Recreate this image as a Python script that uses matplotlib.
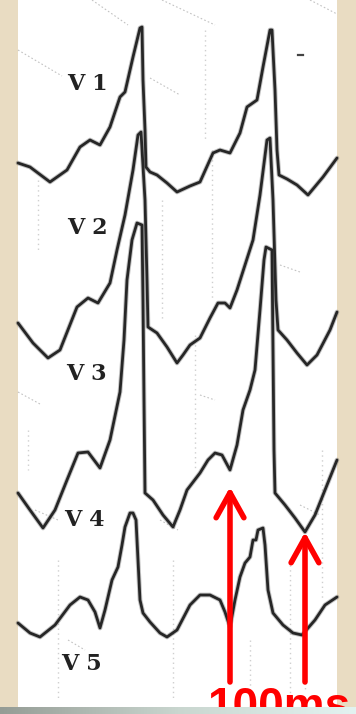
import numpy as np
import matplotlib
matplotlib.use("Agg")
import matplotlib.pyplot as plt

# Precordial leads: sample times (x) and deflections (y, screen units, down is positive)
v1_t = [18, 30, 50, 67, 80, 90, 100, 110, 120, 125, 133, 140, 142, 143, 145, 146, 150, 157, 167,
        177, 190, 200, 213, 220, 230, 240, 247, 257, 263, 270, 272, 275, 277, 279, 287, 297, 308,
        323, 337]
v1_y = [163, 167, 182, 170, 147, 140, 145, 127, 97, 92, 57, 28, 27, 80, 130, 167, 172, 175, 183,
        192, 186, 182, 153, 150, 153, 133, 107, 100, 67, 30, 30, 90, 150, 175, 179, 185, 195,
        177, 158]

v2_t = [18, 33, 48, 60, 77, 88, 98, 110, 117, 125, 133, 138, 141, 145, 147, 148, 157, 167, 177,
        183, 190, 200, 210, 218, 225, 230, 237, 245, 253, 260, 267, 270, 273, 276, 278, 287, 297,
        307, 317, 330, 337]
v2_y = [323, 343, 358, 350, 307, 298, 303, 283, 250, 215, 170, 135, 132, 200, 280, 327, 333, 347, 363,
        355, 345, 338, 318, 303, 303, 308, 290, 265, 240, 195, 140, 138, 200, 300, 330, 340, 353,
        365, 355, 330, 312]

v3_t = [18, 30, 43, 55, 67, 78, 88, 100, 110, 120, 124, 127, 132, 137, 142, 143, 144, 145, 153,
        163, 173, 180, 187, 200, 208, 215, 222, 230, 237, 243, 250, 255, 260, 264, 266, 272, 273,
        274, 275, 285, 295, 305, 315, 325, 337]
v3_y = [493, 510, 528, 510, 480, 453, 452, 468, 440, 392, 340, 280, 240, 223, 225, 300, 400, 493, 500,
        515, 527, 510, 490, 473, 460, 453, 455, 470, 445, 410, 390, 370, 310, 260, 247, 250, 350,
        450, 493, 505, 518, 532, 515, 490, 460]

v4_t = [18, 30, 40, 55, 70, 80, 88, 95, 100, 105, 112, 118, 122, 125, 130, 133, 136, 138, 140,
        143, 150, 160, 167, 177, 190, 200, 210, 220, 225, 230, 235, 240, 245, 250, 253, 256, 258,
        263, 265, 268, 273, 283, 293, 302, 315, 325, 337]
v4_y = [623, 633, 637, 625, 605, 597, 600, 612, 628, 610, 580, 567, 545, 527, 513, 513, 520, 560, 600,
        613, 622, 633, 637, 630, 605, 595, 595, 600, 612, 627, 600, 577, 563, 557, 540, 540, 530,
        528, 545, 590, 613, 625, 633, 635, 620, 605, 597]

leads = [(v1_t, v1_y), (v2_t, v2_y), (v3_t, v3_y), (v4_t, v4_y)]

lead_names = ["V 1", "V 2", "V 3", "V 4", "V 5"]
label_x = [67, 67, 66, 64, 61]
label_y = [84, 228, 374, 520, 664]

# Measurement markers: arrow tips and caption
arrow_tip_t = [230, 305]
arrow_tip_y = [487, 532]
arrow_tail_y = 682
caption = "100ms"

W, H = 356, 714
fig = plt.figure(figsize=(W / 100, H / 100), dpi=100)
fig.patch.set_facecolor("#e9dcc2")
ax = fig.add_axes([0, 0, 1, 1])
ax.set_xlim(0, W)
ax.set_ylim(H, 0)
ax.axis("off")

# paper strip
ax.add_patch(plt.Rectangle((18, 0), 319, 708, facecolor="white", edgecolor="none", zorder=0))

# faint dotted chart-paper grid
grid_segments = [
    ((18, 50), (62, 76)), ((92, 0), (128, 25)), ((162, 0), (215, 25)), ((310, 0), (337, 14)),
    ((150, 78), (180, 95)), ((280, 265), (300, 272)), ((200, 395), (215, 400)),
    ((18, 392), (40, 404)), ((35, 510), (58, 520)), ((68, 640), (85, 650)),
    ((160, 520), (178, 530)), ((300, 505), (320, 515)),
]
for (x0, y0), (x1, y1) in grid_segments:
    ax.plot([x0, x1], [y0, y1], color="#9a9a9a", lw=0.8, ls=(0, (1.5, 2)), alpha=0.6, zorder=1)
for gx, gy0, gy1 in [(162, 200, 320), (205, 30, 140), (212, 150, 300), (195, 335, 470),
                     (58, 560, 700), (173, 560, 700), (290, 560, 700), (322, 450, 600),
                     (38, 180, 250), (28, 430, 470), (305, 600, 690), (250, 640, 700)]:
    ax.plot([gx, gx], [gy0, gy1], color="#a0a0a0", lw=1.0, ls=(0, (1, 2.5)), alpha=0.5, zorder=1)

for t, y in leads:
    # soft halo under the ink line
    ax.plot(t, y, color="#555555", lw=3.4, alpha=0.35, solid_joinstyle="round",
            solid_capstyle="round", zorder=2)
    ax.plot(t, y, color="#262626", lw=2.0, solid_joinstyle="round", solid_capstyle="round", zorder=3)

# small mark in the top trace area
ax.plot([298, 303], [55, 55], color="#444444", lw=1.6, zorder=3)

for name, lx, ly in zip(lead_names, label_x, label_y):
    ax.text(lx, ly, name, fontsize=16, fontweight="bold", family="DejaVu Serif",
            color="#222222", va="center", ha="left", zorder=4)

for tx, ty in zip(arrow_tip_t, arrow_tip_y):
    ax.annotate("", xy=(tx, ty), xytext=(tx, arrow_tail_y),
                arrowprops=dict(arrowstyle="->,head_length=0.9,head_width=0.5", color="#ff0000",
                                lw=4, mutation_scale=20, shrinkA=0, shrinkB=0,
                                capstyle="round", joinstyle="round"),
                zorder=6)

ax.text(207, 720, caption, fontsize=33, fontweight="bold", family="Liberation Sans",
        color="#ff0000", ha="left", va="baseline", zorder=6, clip_on=False)

# bottom shaded bar
grad = np.linspace(0, 1, 256).reshape(1, -1)
cmap = matplotlib.colors.LinearSegmentedColormap.from_list("bar", ["#959c95", "#c9d6cf", "#e3f3f1"])
ax.imshow(grad, extent=(0, W, H, 707), aspect="auto", cmap=cmap, zorder=8)
ax.set_xlim(0, W)
ax.set_ylim(H, 0)

fig.savefig("out.png", dpi=100, facecolor=fig.get_facecolor())
